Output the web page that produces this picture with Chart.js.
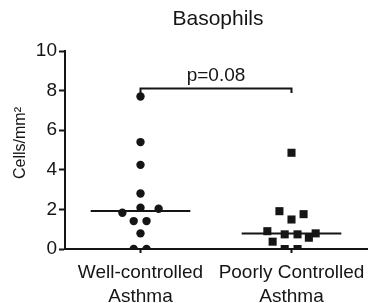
<!DOCTYPE html>
<html>
<head>
<meta charset="utf-8">
<script src="https://cdn.jsdelivr.net/npm/chart.js@4.4.1/dist/chart.umd.min.js"></script>
<style>
  html, body { margin: 0; padding: 0; background: #fff; }
  #chart { display: block; }
</style>
</head>
<body>
<canvas id="chart" width="368" height="303"></canvas>
<script>
// groups on the x axis
const categories = [['Well-controlled', 'Asthma'], ['Poorly Controlled', 'Asthma']];

// cells/mm2
const wellValues = [7.7, 5.4, 4.25, 2.8, 2.08, 1.83, 2.03, 1.41, 1.41, 0.79, 0, 0];
const wellJitter = [0, 0, 0, 0, 0, -0.12, 0.12, -0.045, 0.04, 0, -0.045, 0.04];
const poorValues = [4.86, 1.91, 1.76, 1.49, 0.9, 0.74, 0.74, 0.79, 0.57, 0.37, 0, 0];
const poorJitter = [0, -0.08, 0.08, 0, -0.16, -0.045, 0.04, 0.16, 0.115, -0.125, -0.045, 0.04];
const medians = [1.92, 0.78];

const yTicks = [0, 2, 4, 6, 8, 10];
const bracketY = 8.1;
const pLabel = 'p=0.08';
const chartTitle = 'Basophils';
const yTitle = 'Cells/mm²';

const ink = '#151515';
const fontFamily = "'Liberation Sans', Arial, sans-serif";
const medianHalf = 0.33;

function points(values, jitter, group) {
    return values.map(function(v, i) {
        return { x: group + jitter[i], y: v };
    });
}

function medianLine(group) {
    return [
        { x: group - medianHalf, y: medians[group - 1] },
        { x: group + medianHalf, y: medians[group - 1] }
    ];
}

// titles and p value, placed relative to the plot area
const textPlugin = {
    id: 'texts',
    afterDatasetsDraw: function(chart) {
        const ctx = chart.ctx;
        const area = chart.chartArea;
        const xs = chart.scales.x;
        const ys = chart.scales.y;
        ctx.save();
        ctx.fillStyle = ink;
        ctx.textAlign = 'center';
        ctx.textBaseline = 'alphabetic';

        ctx.font = '19px ' + fontFamily;
        ctx.fillText(pLabel, xs.getPixelForValue(1.5), ys.getPixelForValue(bracketY) - 8);

        ctx.font = '21px ' + fontFamily;
        ctx.textBaseline = 'middle';
        ctx.fillText(chartTitle, (area.left + area.right) / 2 + 2, area.top - 32);

        ctx.font = '16px ' + fontFamily;
        ctx.translate(area.left - 44, (area.top + area.bottom) / 2 - 7);
        ctx.rotate(-Math.PI / 2);
        ctx.fillText(yTitle, 0, 0);
        ctx.restore();
    }
};

new Chart(document.getElementById('chart'), {
    type: 'scatter',
    data: {
        datasets: [
            {
                label: 'Well-controlled',
                data: points(wellValues, wellJitter, 1),
                pointStyle: 'circle',
                pointRadius: 4.2,
                backgroundColor: ink,
                borderColor: ink,
                borderWidth: 0
            },
            {
                label: 'Poorly Controlled',
                data: points(poorValues, poorJitter, 2),
                pointStyle: 'rect',
                pointRadius: 5.7,
                backgroundColor: ink,
                borderColor: ink,
                borderWidth: 0
            },
            {
                type: 'line',
                data: medianLine(1),
                borderColor: ink,
                borderWidth: 2,
                pointRadius: 0
            },
            {
                type: 'line',
                data: medianLine(2),
                borderColor: ink,
                borderWidth: 2,
                pointRadius: 0
            },
            {
                // significance bracket
                type: 'line',
                data: [
                    { x: 1, y: bracketY - 0.22 },
                    { x: 1, y: bracketY },
                    { x: 2, y: bracketY },
                    { x: 2, y: bracketY - 0.22 }
                ],
                borderColor: ink,
                borderWidth: 2,
                pointRadius: 0
            }
        ]
    },
    options: {
        responsive: false,
        animation: false,
        devicePixelRatio: 1,
        layout: { autoPadding: false, padding: { left: 0, right: 1, top: 51, bottom: 0 } },
        plugins: {
            legend: { display: false },
            tooltip: { enabled: false },
            title: { display: false }
        },
        scales: {
            x: {
                type: 'linear',
                min: 0.5,
                max: 2.5,
                afterBuildTicks: function(scale) {
                    scale.ticks = categories.map(function(c, i) { return { value: i + 1 }; });
                },
                afterFit: function(scale) {
                    scale.height = 54;
                    scale.paddingLeft = 0;
                    scale.paddingRight = 0;
                },
                ticks: {
                    color: ink,
                    padding: 8,
                    font: { family: fontFamily, size: 19, lineHeight: 1.27 },
                    callback: function(value) { return categories[value - 1]; }
                },
                grid: {
                    drawOnChartArea: false,
                    drawTicks: true,
                    tickLength: 4,
                    tickWidth: 2,
                    tickColor: ink
                },
                border: { color: ink, width: 2 }
            },
            y: {
                min: 0,
                max: 10,
                afterBuildTicks: function(scale) {
                    scale.ticks = yTicks.map(function(v) { return { value: v }; });
                },
                afterFit: function(scale) { scale.width = 65; },
                ticks: {
                    color: ink,
                    padding: 2,
                    font: { family: fontFamily, size: 19 }
                },
                grid: {
                    drawOnChartArea: false,
                    drawTicks: true,
                    tickLength: 6,
                    tickWidth: 2,
                    tickColor: ink
                },
                border: { color: ink, width: 2 }
            }
        }
    },
    plugins: [textPlugin]
});
</script>
</body>
</html>
